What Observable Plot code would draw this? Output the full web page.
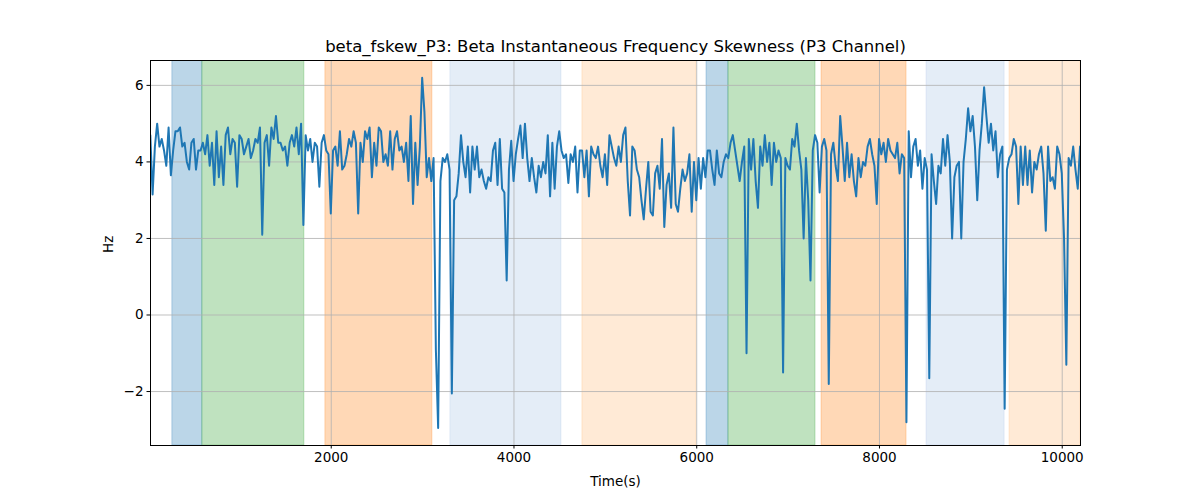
<!DOCTYPE html>
<html>
<head>
<meta charset="utf-8">
<script src="https://cdn.jsdelivr.net/npm/d3@7"></script>
<script src="https://cdn.jsdelivr.net/npm/@observablehq/plot@0.6"></script>
<style>
  html, body { margin: 0; padding: 0; background: #fff; }
</style>
</head>
<body>
<div id="chart"></div>
<script>
const title = "beta_fskew_P3: Beta Instantaneous Frequency Skewness (P3 Channel)";
const xLabel = "Time(s)";
const yLabel = "Hz";
const xTicks = [2000, 4000, 6000, 8000, 10000];
const yTicks = [-2, 0, 2, 4, 6];
const tStart = 20;
const tStep = 25;

const values = [
  4.7, 3.15, 4.4, 5.0, 4.4, 4.6, 4.3, 3.9, 4.9, 3.65,
  4.3, 4.8, 4.8, 4.9, 4.4, 4.5, 4.0, 3.8, 4.5, 4.6,
  3.8, 4.3, 4.3, 4.5, 4.2, 4.7, 3.9, 4.5, 3.4, 4.8,
  3.6, 4.4, 3.4, 4.7, 4.9, 4.2, 4.6, 4.5, 3.35, 4.7,
  4.6, 4.2, 4.4, 4.6, 4.1, 4.3, 4.6, 4.5, 4.9, 2.1,
  4.5, 4.7, 3.9, 4.9, 4.6, 5.2, 4.5, 4.5, 4.3, 4.4,
  3.9, 4.5, 4.7, 4.4, 4.9, 4.2, 5.0, 2.35, 4.7, 4.3,
  4.6, 4.0, 4.5, 4.4, 3.35, 4.5, 4.7, 4.3, 4.2, 2.65,
  4.3, 4.4, 3.9, 4.8, 3.8, 3.9, 4.2, 4.6, 4.4, 4.8,
  4.5, 2.65, 4.5, 4.0, 4.8, 4.6, 4.9, 3.6, 4.5, 3.9,
  4.9, 4.8, 4.0, 4.2, 3.9, 4.8, 3.8, 4.6, 4.8, 4.3,
  4.4, 4.0, 4.5, 3.5, 5.2, 2.9, 4.5, 3.4, 4.4, 6.2,
  5.3, 3.6, 4.1, 3.5, 4.1, -0.9, -2.95, 3.5, 4.1, 4.0,
  4.2, 3.8, -2.05, 3.0, 3.1, 3.7, 4.7, 4.0, 3.6, 4.4,
  3.2, 4.4, 3.8, 4.4, 3.6, 3.8, 3.5, 3.3, 3.6, 3.5,
  4.3, 4.5, 3.4, 4.6, 3.3, 3.2, 0.9, 3.8, 4.55, 3.5,
  4.2, 4.6, 4.95, 4.1, 5.0, 4.1, 3.5, 4.1, 3.6, 3.2,
  3.9, 3.6, 4.0, 3.7, 4.7, 3.1, 4.5, 3.3, 4.4, 4.8,
  4.3, 4.1, 4.2, 3.45, 4.2, 4.0, 4.4, 3.2, 4.3, 4.3,
  3.6, 4.3, 3.1, 4.4, 4.2, 4.1, 4.4, 3.9, 3.6, 4.2,
  3.4, 4.7, 4.4, 4.1, 3.9, 4.4, 4.0, 4.7, 4.9, 3.5,
  2.6, 4.4, 4.3, 3.8, 3.6, 3.0, 2.5, 3.3, 4.0, 2.7,
  2.6, 3.7, 3.9, 3.3, 4.6, 2.3, 3.4, 3.7, 2.8, 4.9,
  2.9, 2.7, 3.3, 3.8, 3.5, 3.7, 4.2, 2.7, 4.0, 3.0,
  4.1, 3.3, 4.1, 3.6, 4.3, 4.3, 3.8, 3.4, 4.3, 3.7,
  3.6, 4.0, 4.2, 4.1, 4.5, 4.7, 4.3, 3.9, 3.5, 4.0,
  4.4, -1.0, 4.6, 3.8, 4.6, 3.5, 2.8, 4.4, 3.9, 4.7,
  4.0, 4.5, 3.4, 4.5, 4.0, 4.3, 4.1, -1.5, 4.1, 3.9,
  3.8, 4.6, 4.4, 5.0, 4.3, 3.8, 2.0, 4.1, 3.0, 0.9,
  4.3, 4.7, 4.5, 3.2, 4.4, 4.6, 4.3, -1.8, 4.2, 4.5,
  3.9, 3.5, 5.2, 4.4, 3.5, 4.5, 3.6, 4.2, 3.5, 3.1,
  4.1, 3.6, 4.0, 3.9, 4.4, 4.6, 4.2, 3.9, 2.9, 4.6,
  4.2, 4.5, 4.0, 4.6, 4.3, 4.2, 4.1, 4.5, 3.7, 4.2,
  4.1, -2.8, 4.8, 3.6, 4.4, 4.6, 3.9, 4.3, 3.3, 4.1,
  3.8, -1.65, 4.2, 3.5, 2.9, 3.9, 3.7, 4.6, 3.9, 4.7,
  4.0, 2.0, 3.6, 3.9, 4.0, 2.0, 4.0, 4.6, 5.4, 4.8,
  5.2, 4.4, 3.0, 4.3, 5.0, 5.95, 5.2, 4.5, 5.0, 4.3,
  4.8, 3.6, 4.2, 4.4, -2.45, 3.8, 4.1, 4.2, 4.6, 4.4,
  2.9, 4.4, 3.4, 4.4, 3.4, 4.3, 3.2, 4.0, 3.8, 4.2,
  4.4, 3.7, 2.2, 4.4, 3.5, 3.6, 3.3, 4.4, 4.2, 3.7,
  2.0, -1.3, 4.1, 3.9, 4.4, 3.8, 3.3, 4.4
];
const times = values.map((_, i) => tStart + i * tStep);

const bandStart = [261, 589, 1936, 3304, 4749, 6107, 6347, 7366, 8515, 9423];
const bandEnd   = [589, 1706, 3107, 4519, 5997, 6347, 7300, 8296, 9369, 10200];
const bandKind  = ["blue", "green", "orange", "lightblue", "lightorange",
                   "blue", "green", "orange", "lightblue", "lightorange"];

const kindFill = {
  blue: "#1f77b4", green: "#2ca02c", orange: "#ff7f0e",
  lightblue: "#aec7e8", lightorange: "#ffbb78"
};
const kindOpacity = { blue: 0.3, green: 0.3, orange: 0.3, lightblue: 0.33, lightorange: 0.3 };

const bands = bandStart.map((s, i) => ({ x1: s, x2: bandEnd[i], kind: bandKind[i] }));
const series = values.map((v, i) => ({ t: times[i], v }));

const fmtNum = d => d < 0 ? "\u2212" + Math.abs(d) : String(d);

const chart = Plot.plot({
  width: 1200,
  height: 500,
  marginTop: 60,
  marginBottom: 55,
  marginLeft: 150,
  marginRight: 120,
  style: { fontFamily: "DejaVu Sans, sans-serif", fontSize: "13.5px", color: "black", background: "white" },
  x: { domain: [22, 10200], label: null },
  y: { domain: [-3.41, 6.65], label: null },
  marks: [
    Plot.rect(bands, {
      x1: "x1", x2: "x2",
      fill: d => kindFill[d.kind],
      fillOpacity: d => kindOpacity[d.kind],
      stroke: d => kindFill[d.kind],
      strokeOpacity: d => kindOpacity[d.kind] * 0.9,
      strokeWidth: 1,
      clip: true
    }),
    Plot.gridX(xTicks, { stroke: "#b0b0b0", strokeOpacity: 1, strokeWidth: 0.8 }),
    Plot.gridY(yTicks, { stroke: "#b0b0b0", strokeOpacity: 1, strokeWidth: 0.8 }),
    Plot.line(series, { x: "t", y: "v", stroke: "#1f77b4", strokeWidth: 2, clip: true }),
    Plot.frame({ stroke: "black", strokeWidth: 1 }),
    Plot.axisX(xTicks, { tickSize: 3.5, tickPadding: 3.5, tickFormat: d => String(d), label: null, fontSize: "13.5px" }),
    Plot.axisY(yTicks, { tickSize: 3.5, tickPadding: 3.5, tickFormat: fmtNum, label: null, fontSize: "13.5px" }),
    Plot.text([title], { frameAnchor: "top", lineAnchor: "middle", dy: -14, fontSize: 16.5, fill: "black" }),
    Plot.text([xLabel], { frameAnchor: "bottom", lineAnchor: "middle", dy: 36, fontSize: 13.5, fill: "black" }),
    Plot.text([yLabel], { frameAnchor: "left", dx: -42, rotate: -90, fontSize: 13.5, fill: "black" })
  ]
});
document.getElementById("chart").appendChild(chart);
</script>
</body>
</html>
